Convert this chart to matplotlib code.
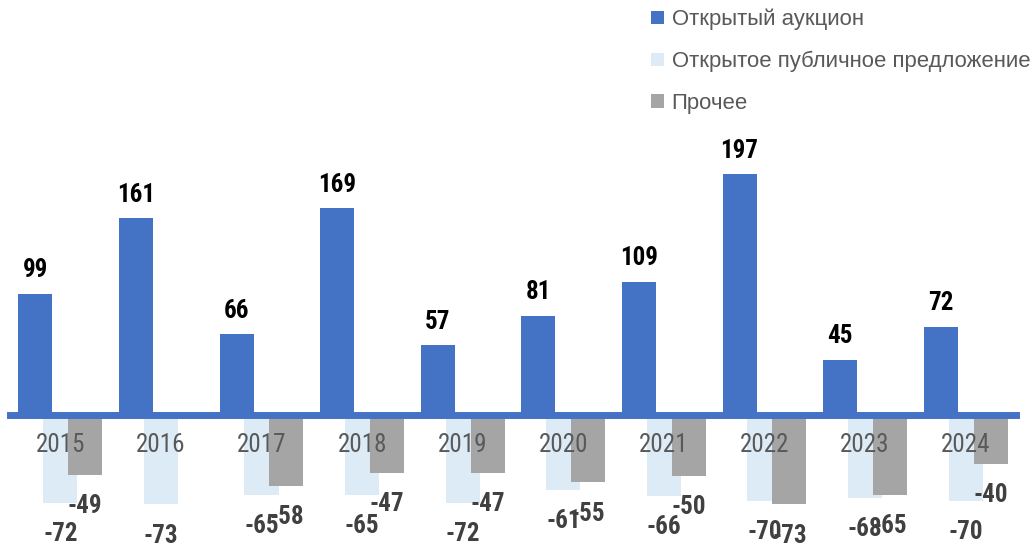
import numpy as np
import matplotlib
matplotlib.use("Agg")
import matplotlib.pyplot as plt

years = ["2015", "2016", "2017", "2018", "2019", "2020", "2021", "2022", "2023", "2024"]
auction = [99, 161, 66, 169, 57, 81, 109, 197, 45, 72]
public_offer = [-72, -73, -65, -65, -72, -61, -66, -70, -68, -70]
other = [-49, np.nan, -58, -47, -47, -55, -50, -73, -65, -40]

names = ["Открытый аукцион", "Открытое публичное предложение", "Прочее"]
colors = ["#4472C4", "#DDEBF7", "#A5A5A5"]

plt.rcParams["font.family"] = ["Liberation Sans", "DejaVu Sans"]
NARROW = ["Liberation Sans Narrow", "Roboto Condensed", "Archivo Narrow", "Liberation Sans"]

fig = plt.figure(figsize=(10.3, 5.47), dpi=100)
ax = fig.add_axes([10 / 1030, 0, 1006 / 1030, 1])

x = np.arange(len(years))
w = 0.338
off = 0.248

b1 = ax.bar(x - off, auction, w, color=colors[0], label=names[0])
b2 = ax.bar(x, public_offer, w, color=colors[1], label=names[1])
b3 = ax.bar(x + off, other, w, color=colors[2], label=names[2])

# value labels
for xi, v in zip(x - off, auction):
    ax.annotate(str(v), (xi, v), xytext=(0, 12), textcoords="offset points",
                ha="center", va="baseline", fontsize=18, fontweight="bold",
                color="black", family=NARROW)
for series, shift in [(public_offer, 0), (other, off)]:
    for xi, v in zip(x + shift, series):
        if np.isnan(v):
            continue
        ax.annotate(str(int(v)), (xi, v), xytext=(0, -27.5), textcoords="offset points",
                    ha="center", va="baseline", fontsize=18, fontweight="bold",
                    color="#404040", family=NARROW)

ax.set_xlim(-0.5, len(years) - 0.5)
ax.set_ylim(-107.9, 339.5)

ax.spines[["top", "right", "left"]].set_visible(False)
ax.spines["bottom"].set_position(("data", 0))
ax.spines["bottom"].set_color(colors[0])
ax.spines["bottom"].set_linewidth(5)
ax.set_yticks([])
ax.set_xticks(x)
ax.set_xticklabels(years, fontsize=18, color="#595959", family=NARROW)
ax.tick_params(axis="x", length=0, pad=13)
ax.patch.set_visible(False)

fig.legend(handles=[b1, b2, b3], loc="upper left", bbox_to_anchor=(651 / 1030, 1 - 9 / 547),
           frameon=False, fontsize=15.9, labelcolor="#595959", handlelength=0.57,
           handleheight=0.57, handletextpad=0.36, labelspacing=0.93,
           borderpad=0, borderaxespad=0)

fig.savefig("out.png", dpi=100)
